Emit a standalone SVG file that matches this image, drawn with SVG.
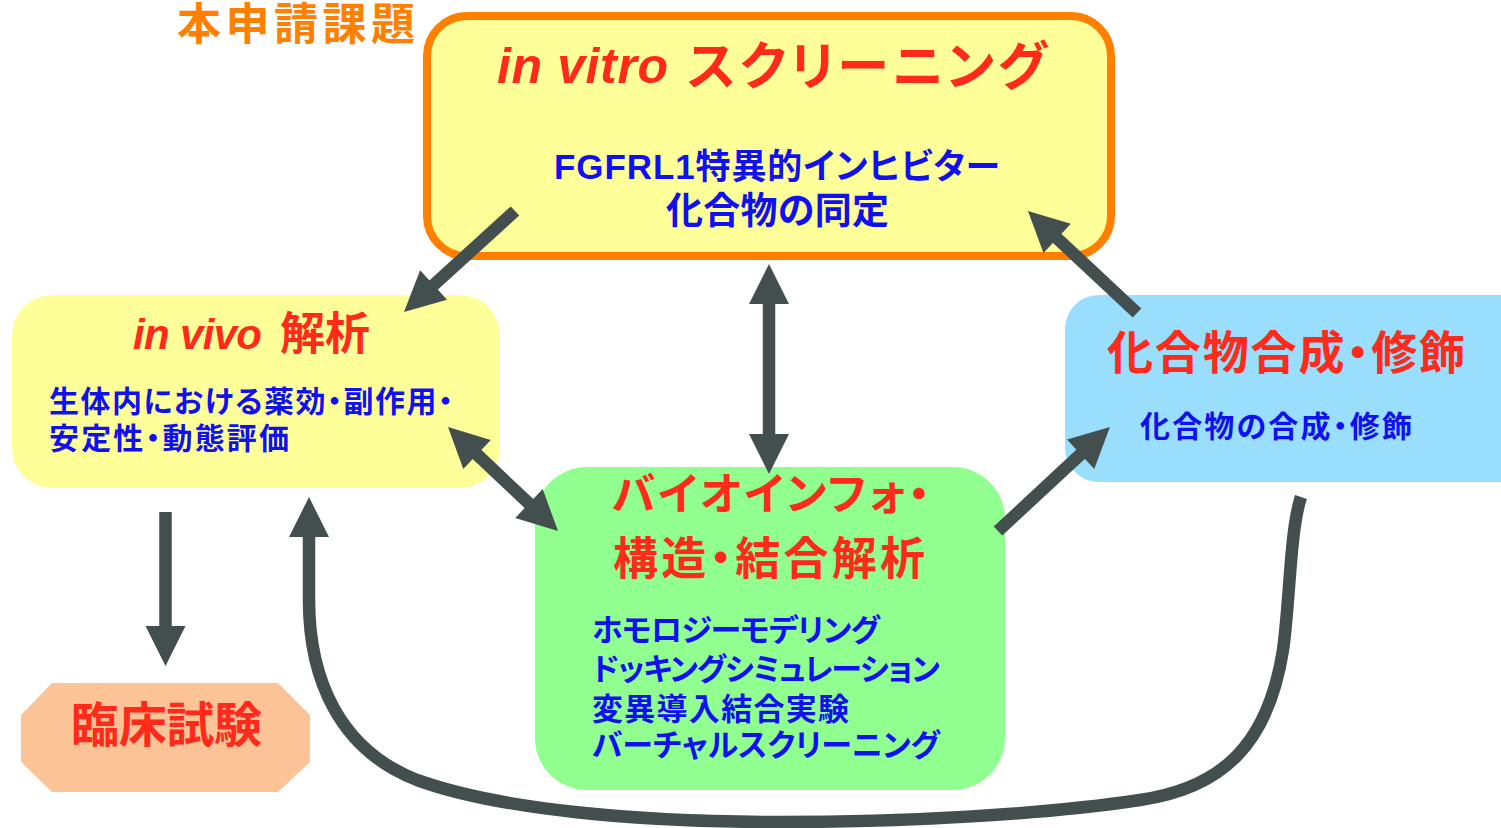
<svg xmlns="http://www.w3.org/2000/svg" width="1501" height="828" viewBox="0 0 1501 828">
<style>
.jp{font-family:"Liberation Sans","Noto Sans CJK JP",sans-serif;font-weight:bold;font-feature-settings:"palt"}
.it{font-family:"Liberation Sans","Noto Sans CJK JP",sans-serif;font-style:italic;font-weight:bold}
.red{fill:#FF2A1A}
.blue{fill:#1010F0}
.conn{fill:none;stroke:#434F4E;stroke-width:12.5}
</style>
<defs>
<marker id="ah" markerUnits="userSpaceOnUse" markerWidth="40" markerHeight="40" viewBox="0 0 40 40" refX="2" refY="20" orient="auto-start-reverse" overflow="visible">
<path d="M0,0 L40,20 L0,40 Z" fill="#434F4E"/>
</marker>
</defs>
<rect width="1501" height="828" fill="#FFFFFF"/>
<g id="title">
<text class="jp" x="177" y="40" font-size="44" fill="#FF8000" font-weight="900" style="font-feature-settings:normal" textLength="238" lengthAdjust="spacing">本申請課題</text>
</g>
<g id="invitro">
<rect x="427" y="16" width="684" height="240" rx="40" fill="#FFFF99" stroke="#FF8000" stroke-width="8"/>
<text class="it red" x="497" y="83" font-size="50" textLength="171" lengthAdjust="spacing">in vitro</text>
<text class="jp red" x="687" y="85" font-size="52" textLength="360" lengthAdjust="spacing">スクリーニング</text>
<text class="jp blue" x="554" y="179" font-size="35" textLength="446" lengthAdjust="spacing">FGFRL1特異的インヒビター</text>
<text class="jp blue" x="666" y="224" font-size="37" textLength="223" lengthAdjust="spacing">化合物の同定</text>
</g>
<g id="invivo">
<rect x="12" y="295" width="488" height="193" rx="40" fill="#FFFF99"/>
<text class="it red" x="133" y="349" font-size="42" textLength="129" lengthAdjust="spacing">in vivo</text>
<text class="jp red" x="280" y="350" font-size="45" textLength="90" lengthAdjust="spacing">解析</text>
<text class="jp blue" x="49" y="412" font-size="30" textLength="404" lengthAdjust="spacing">生体内における薬効・副作用・</text>
<text class="jp blue" x="49" y="449" font-size="30" textLength="240" lengthAdjust="spacing">安定性・動態評価</text>
</g>
<g id="synthesis">
<rect x="1065" y="295" width="470" height="187" rx="34" fill="#99DFFD"/>
<text class="jp red" x="1107" y="369" font-size="46" textLength="358" lengthAdjust="spacing">化合物合成・修飾</text>
<text class="jp blue" x="1140" y="437" font-size="30" textLength="272" lengthAdjust="spacing">化合物の合成・修飾</text>
</g>
<g id="bioinfo">
<rect x="535" y="467" width="470" height="323" rx="52" fill="#90FF90"/>
<text class="jp red" x="612" y="510" font-size="44" textLength="318" lengthAdjust="spacing">バイオインフォ・</text>
<text class="jp red" x="613" y="575" font-size="45" textLength="312" lengthAdjust="spacing">構造・結合解析</text>
<text class="jp blue" x="592" y="641" font-size="31" textLength="288" lengthAdjust="spacing">ホモロジーモデリング</text>
<text class="jp blue" x="592" y="680" font-size="31" textLength="348" lengthAdjust="spacing">ドッキングシミュレーション</text>
<text class="jp blue" x="592" y="720" font-size="31" textLength="257" lengthAdjust="spacing">変異導入結合実験</text>
<text class="jp blue" x="592" y="756" font-size="31" textLength="348" lengthAdjust="spacing">バーチャルスクリーニング</text>
</g>
<g id="clinical">
<polygon points="52,683 278,683 310,715 310,762 278,792 52,792 21,762 21,715" fill="#FBC396"/>
<text class="jp red" x="71" y="742" font-size="48" textLength="191" lengthAdjust="spacing">臨床試験</text>
</g>
<g id="connectors">
<line class="conn" x1="515" y1="211" x2="432.1" y2="286.4" marker-end="url(#ah)"/>
<line class="conn" x1="769" y1="302" x2="769" y2="436" marker-start="url(#ah)" marker-end="url(#ah)"/>
<line class="conn" x1="1137" y1="313" x2="1055.7" y2="237" marker-end="url(#ah)"/>
<line class="conn" x1="475.6" y1="453.1" x2="530.4" y2="504.9" marker-start="url(#ah)" marker-end="url(#ah)"/>
<line class="conn" x1="998" y1="531" x2="1082.1" y2="452.9" marker-end="url(#ah)"/>
<line class="conn" x1="165.5" y1="512" x2="165.5" y2="628" marker-end="url(#ah)"/>
<path class="conn" d="M1301,497 C1290,530 1290,600 1283,650 C1268,745 1222,788 1140,800 C1040,815 900,822 780,822 C640,822 500,810 417,780 C340,750 309,680 309,600 L309,535" marker-end="url(#ah)"/>
</g>
</svg>
